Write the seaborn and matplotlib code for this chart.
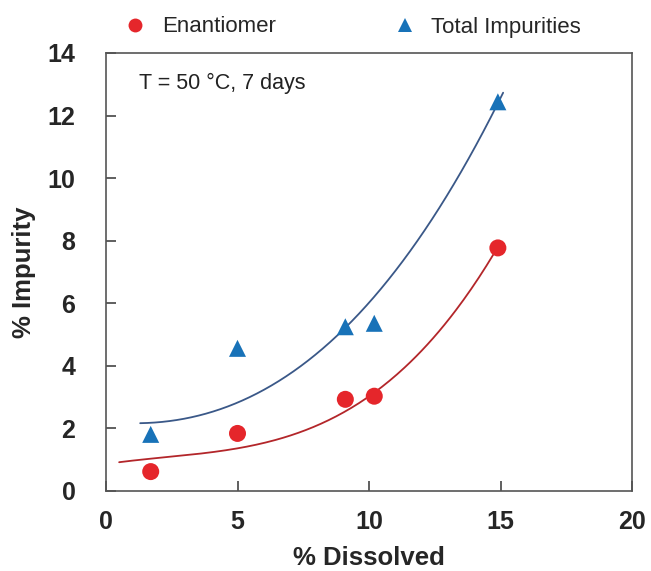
import numpy as np
import pandas as pd
import matplotlib
matplotlib.use("Agg")
import matplotlib.pyplot as plt
import seaborn as sns
from matplotlib.lines import Line2D

# ---- data ----
dissolved = [1.7, 5.0, 9.1, 10.2, 14.9]
enantiomer = [0.62, 1.84, 2.93, 3.03, 7.77]
total_impurities = [1.81, 4.56, 5.25, 5.36, 12.44]

# trend lines (smoothed by a cubic fit)
enant_trend_x = [0.5, 5.0, 9.1, 10.2, 11.7, 12.7, 13.6, 14.9]
enant_trend_y = [0.9, 1.45, 2.49, 3.01, 4.19, 5.25, 6.32, 7.65]
total_trend_x = [1.3, 5.0, 8.5, 9.1, 11.1, 12.9, 14.5, 15.1]
total_trend_y = [2.11, 3.07, 4.5, 5.0, 7.38, 9.52, 11.64, 12.7]

x_ticks = [0, 5, 10, 15, 20]
y_ticks = [0, 2, 4, 6, 8, 10, 12, 14]

RED = "#e5262b"
BLUE = "#1872b8"
RED_LINE = "#b3262a"
BLUE_LINE = "#3a5888"

sns.set_theme(style="white")
plt.rcParams["font.family"] = ["Liberation Sans", "DejaVu Sans"]

fig = plt.figure(figsize=(6.51, 5.71), dpi=100)
ax = fig.add_axes([106 / 651, 1 - 491 / 571, (632 - 106) / 651, (491 - 53) / 571])

df = pd.DataFrame({
    "x": dissolved * 2,
    "y": enantiomer + total_impurities,
    "series": ["Enantiomer"] * len(dissolved) + ["Total Impurities"] * len(dissolved),
})


def trend(xs, ys):
    c = np.polyfit(xs, ys, 3)
    gx = np.linspace(min(xs), max(xs), 200)
    return pd.DataFrame({"x": gx, "y": np.polyval(c, gx)})


sns.lineplot(data=trend(enant_trend_x, enant_trend_y), x="x", y="y", ax=ax,
             color=RED_LINE, lw=1.3, sort=False)
sns.lineplot(data=trend(total_trend_x, total_trend_y), x="x", y="y", ax=ax,
             color=BLUE_LINE, lw=1.3, sort=False)

sns.scatterplot(data=df, x="x", y="y", hue="series", style="series", ax=ax,
                palette={"Enantiomer": RED, "Total Impurities": BLUE},
                markers={"Enantiomer": "o", "Total Impurities": "^"},
                s=150, edgecolor="none", legend=False, zorder=3)

ax.set_xlim(0, 20)
ax.set_ylim(0, 14)
ax.set_xticks(x_ticks)
ax.set_yticks(y_ticks)
ax.tick_params(direction="in", length=7, width=1.2, color="#444444",
               labelsize=18, top=False, right=False, left=True, bottom=True)
ax.tick_params(axis="x", pad=14)
ax.tick_params(axis="y", pad=22)
for lab in ax.get_xticklabels() + ax.get_yticklabels():
    lab.set_fontweight("bold")
for sp in ax.spines.values():
    sp.set_color("#555555")
    sp.set_linewidth(1.2)

ax.set_xlabel("% Dissolved", fontsize=18.5, fontweight="bold", labelpad=8)
ax.set_ylabel("% Impurity", fontsize=18.5, fontweight="bold", labelpad=8)

ax.text(0.062, 0.93, "T = 50 \u00b0C, 7 days", transform=ax.transAxes,
        fontsize=15.5, va="center", ha="left", color="#222222")

handles = [
    Line2D([], [], marker="o", ls="none", color=RED, markersize=10, markeredgewidth=0),
    Line2D([], [], marker="^", ls="none", color=BLUE, markersize=10, markeredgewidth=0),
]
fig.legend(handles, ["Enantiomer", "Total Impurities"], loc="center left",
           bbox_to_anchor=(102 / 651, 1 - 27 / 571), ncol=2, frameon=False,
           fontsize=16, handletextpad=0.6, columnspacing=5.2, handlelength=1.2)

fig.savefig("out.png", dpi=100)
